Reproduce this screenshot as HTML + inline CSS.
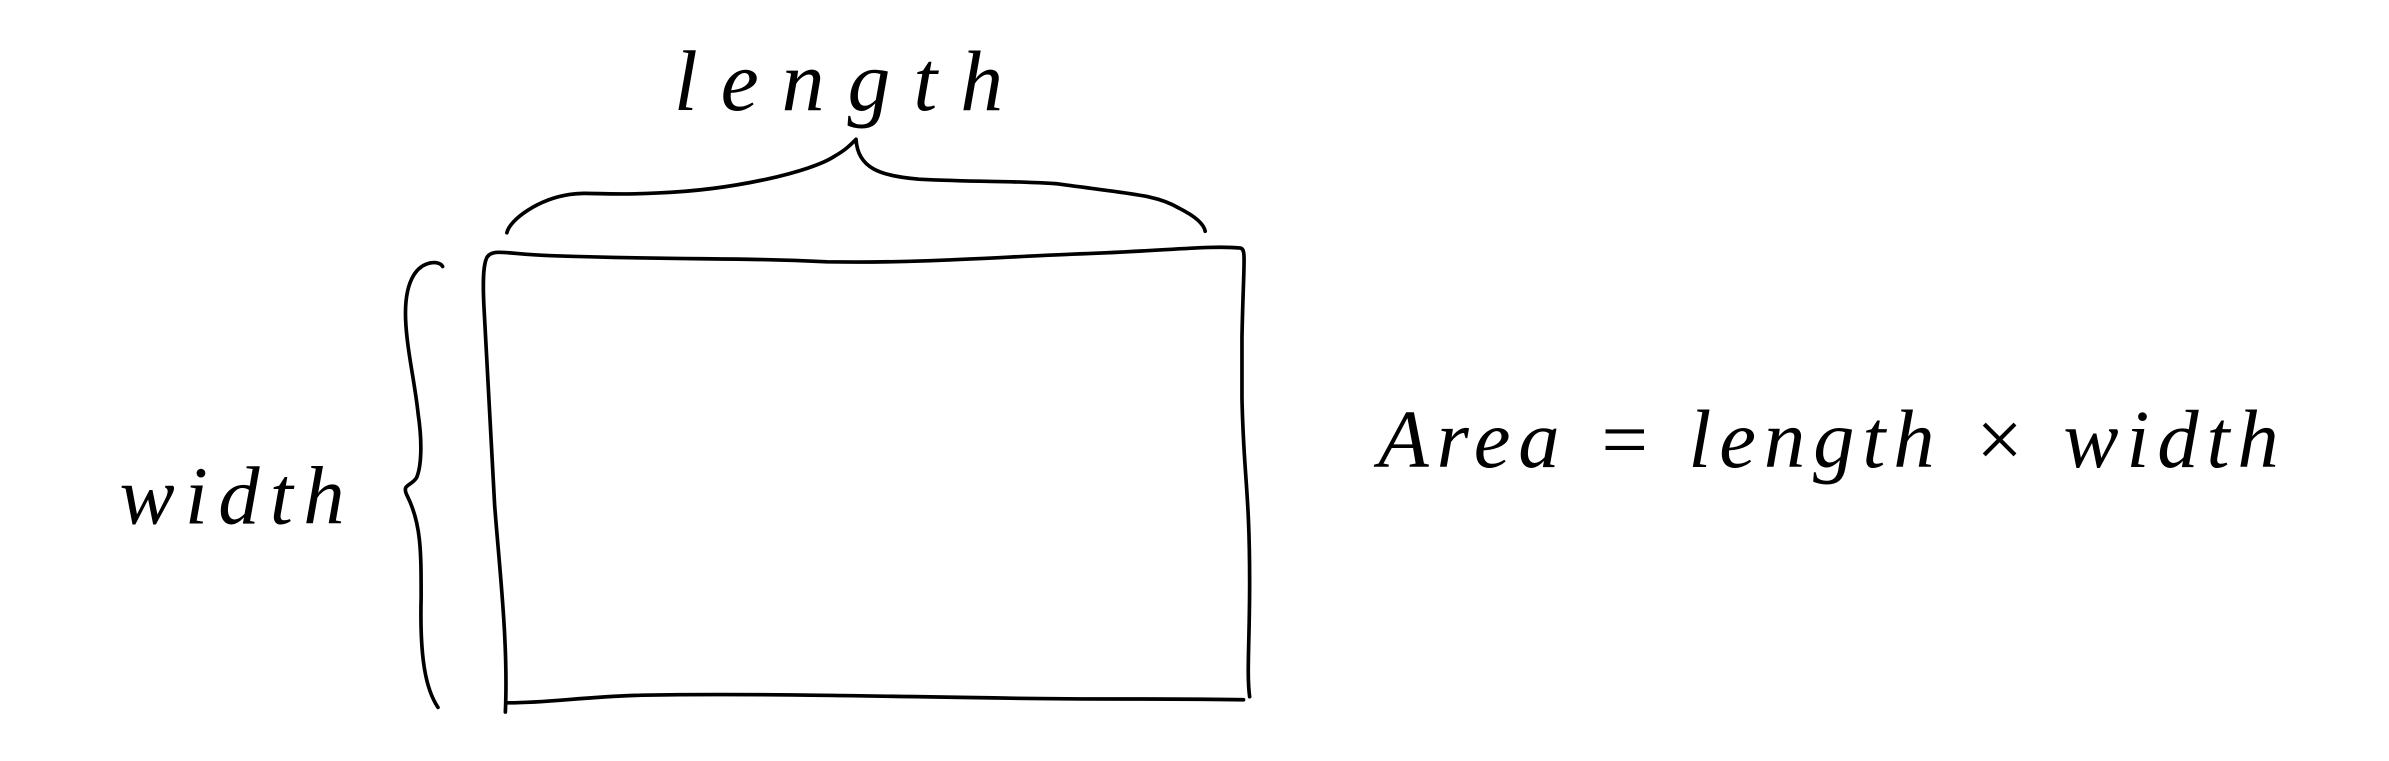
<!DOCTYPE html>
<html><head><meta charset="utf-8"><style>
html,body{margin:0;padding:0;background:#fff;}
svg{display:block;}
text{font-family:"Liberation Serif",serif;font-style:italic;fill:#000;}
</style></head><body>
<svg width="2389" height="761" viewBox="0 0 1560 497" preserveAspectRatio="none" xmlns="http://www.w3.org/2000/svg">
<rect width="1560" height="497" fill="#fff"/>
<g fill="none" stroke="#000" stroke-width="2.4" stroke-linecap="round" stroke-linejoin="round">
<path d="M318,168 C322,162 330,166 360,167 C450,170 480,168 540,171 C600,172 650,168 700,166 C760,164 790,160 810,162 C814,163 812,170 811,220 L811,260 C812,310 816,320 816,380 C816,420 814,440 816,455 M812,457 C760,456 720,457 660,456 C540,454 480,453 420,454 C380,455 360,459 332,459 M330,465 C332,420 326,370 323,330 C320,280 318,240 316,200 C315,180 316,172 318,168"/>
<path d="M331,152 C333,143 352,130 372,127 C385,125 395,128 430,126 C480,124 530,112 545,102 C552,98 555,95 559,91 C560,110 575,115 600,117 C640,119 660,118 690,120 C740,127 755,127 770,136 C780,141 786,146 787,151"/>
<path d="M289,174 C287,170 276,170 270,180 C258,200 270,240 273,270 C276,290 275,305 272,312 C268,318 262,316 266,324 C275,342 275,360 275,390 C274,430 278,450 286,462"/>
</g>
<text x="440" y="72" font-size="56" textLength="215" lengthAdjust="spacing">length</text>
<text x="78" y="342" font-size="54" textLength="147" lengthAdjust="spacing">width</text>
<text x="900" y="305" font-size="54" textLength="588" lengthAdjust="spacing">Area = length × width</text>
</svg>
</body></html>
